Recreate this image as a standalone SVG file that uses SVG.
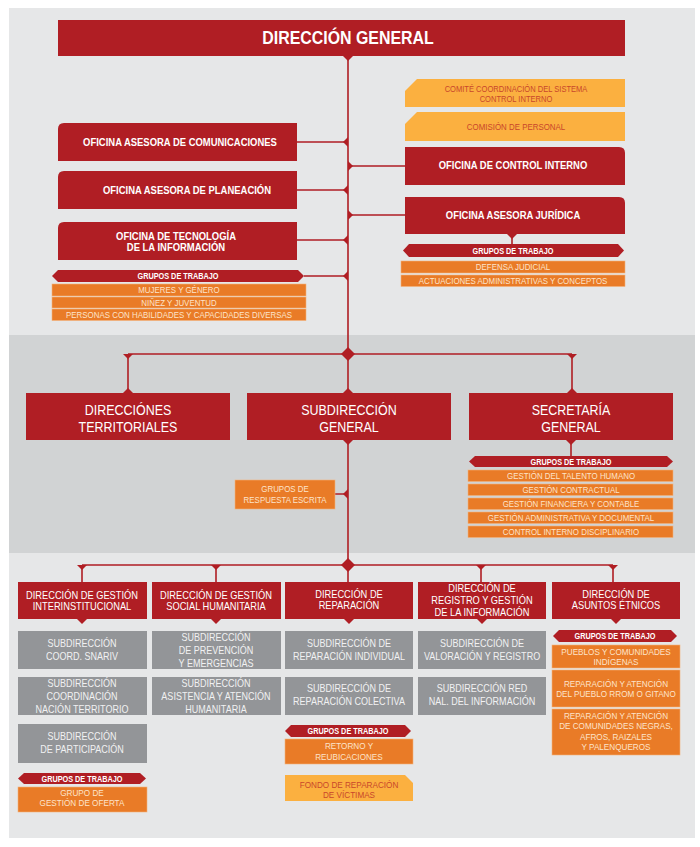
<svg xmlns="http://www.w3.org/2000/svg" width="700" height="847" viewBox="0 0 700 847">
<style>
text{font-family:"Liberation Sans",Arial,sans-serif;text-anchor:middle;transform-box:fill-box;transform-origin:center;transform:scaleX(0.86)}
text.title{transform:scaleX(0.91)}
.red{fill:#b01e24}
.org{fill:#e97b27;stroke:#f3b27a;stroke-width:0.6}
.yel{fill:#fbb040}
.gry{fill:#939598}
.w{fill:#ffffff}
.b{font-weight:bold}
.ot{fill:#fde4cb}
.yt{fill:#c9472b}
.gt{fill:#f1f1f2}
.ln{stroke:#b01e24;stroke-width:1.6;fill:none}
.mk{fill:#b01e24}
</style>
<rect x="0" y="0" width="700" height="847" fill="#ffffff"/>
<rect x="9" y="8" width="686" height="830" fill="#e6e7e8"/>
<rect x="9" y="335" width="686" height="218" fill="#d1d3d4"/>

<g id="connectors">
<path class="ln" d="M348,56V354 M297,142H348 M297,190H348 M297,240H348 M304,276H348 M348,166H405 M348,215H405 M512,234V244"/>
<path class="ln" d="M128,354H572 M128,354V393 M572,354V393 M348,354V393 M348,440V565 M335,494H348 M571,440V456"/>
<path class="ln" d="M82,565H613 M82,565V582 M216,565V582 M348,565V582 M481,565V582 M613,565V582"/>
<polygon class="mk" points="343,56 353,56 348,61"/>
<polygon class="mk" points="348,137 348,147 343,142"/>
<polygon class="mk" points="348,185 348,195 343,190"/>
<polygon class="mk" points="348,235 348,245 343,240"/>
<polygon class="mk" points="348,271 348,281 343,276"/>
<polygon class="mk" points="348,161 348,171 353,166"/>
<polygon class="mk" points="348,210 348,220 353,215"/>
<polygon class="mk" points="507,234 517,234 512,239"/>
<polygon class="mk" points="348,347 355,354 348,361 341,354"/>
<polygon class="mk" points="123,354 133,354 128,359"/>
<polygon class="mk" points="567,354 577,354 572,359"/>
<polygon class="mk" points="123,393 133,393 128,388"/>
<polygon class="mk" points="343,393 353,393 348,388"/>
<polygon class="mk" points="567,393 577,393 572,388"/>
<polygon class="mk" points="343,440 353,440 348,445"/>
<polygon class="mk" points="566,440 576,440 571,445"/>
<polygon class="mk" points="348,489 348,499 343,494"/>
<polygon class="mk" points="348,558 355,565 348,572 341,565"/>
<polygon class="mk" points="77,565 87,565 82,570"/>
<polygon class="mk" points="211,565 221,565 216,570"/>
<polygon class="mk" points="476,565 486,565 481,570"/>
<polygon class="mk" points="608,565 618,565 613,570"/>
<polygon class="mk" points="77,619 87,619 82,624"/>
<polygon class="mk" points="211,619 221,619 216,624"/>
<polygon class="mk" points="344,619 354,619 349,624"/>
<polygon class="mk" points="477,619 487,619 482,624"/>
<polygon class="mk" points="611,619 621,619 616,624"/>
</g>

<g id="direccion-general">
<rect class="red" x="58" y="20" width="567" height="36"/>
<text class="w b title" x="348" y="44" font-size="17.5">DIRECCIÓN GENERAL</text>
</g>

<g id="comite">
<path class="yel" d="M405,91L417,79H625V107H405Z"/>
<text class="yt" x="516" y="92.5" font-size="8.8">COMITÉ COORDINACIÓN DEL SISTEMA</text>
<text class="yt" x="516" y="102" font-size="8.8">CONTROL INTERNO</text>
</g>
<g id="comision">
<path class="yel" d="M405,124L417,112H625V141H405Z"/>
<text class="yt" x="516" y="130" font-size="9.2">COMISIÓN DE PERSONAL</text>
</g>
<g id="control-interno">
<path class="red" d="M405,147H619Q625,147 625,153V185H405Z"/>
<text class="w b" x="513" y="169.5" font-size="11">OFICINA DE CONTROL INTERNO</text>
</g>
<g id="juridica">
<path class="red" d="M405,197H619Q625,197 625,203V234H405Z"/>
<text class="w b" x="513" y="219" font-size="11">OFICINA ASESORA JURÍDICA</text>
</g>
<g id="grupos-juridica">
<polygon class="red" points="409,244 618,244 624,250.5 618,257 409,257 403,250.5"/>
<text class="w b" x="513" y="254" font-size="8.5">GRUPOS DE TRABAJO</text>
<rect class="org" x="401" y="261" width="224" height="12"/>
<text class="ot" x="513" y="270.5" font-size="9.2">DEFENSA JUDICIAL</text>
<rect class="org" x="401" y="275" width="224" height="11.5"/>
<text class="ot" x="513" y="284.2" font-size="9.2">ACTUACIONES ADMINISTRATIVAS Y CONCEPTOS</text>
</g>

<g id="comunicaciones">
<path class="red" d="M58,129Q58,123 64,123H297V161H58Z"/>
<text class="w b" x="180" y="146" font-size="11">OFICINA ASESORA DE COMUNICACIONES</text>
</g>
<g id="planeacion">
<path class="red" d="M58,177Q58,171 64,171H297V209H58Z"/>
<text class="w b" x="187" y="194" font-size="11">OFICINA ASESORA DE PLANEACIÓN</text>
</g>
<g id="tecnologia">
<path class="red" d="M58,228Q58,222 64,222H297V260H58Z"/>
<text class="w b" x="176" y="240" font-size="11">OFICINA DE TECNOLOGÍA</text>
<text class="w b" x="176" y="251.5" font-size="11">DE LA INFORMACIÓN</text>
</g>
<g id="grupos-tecnologia">
<polygon class="red" points="58,270 298,270 304,276 298,282 58,282 52,276"/>
<text class="w b" x="178" y="279.5" font-size="8.5">GRUPOS DE TRABAJO</text>
<rect class="org" x="52" y="284" width="254" height="12"/>
<text class="ot" x="179" y="293.3" font-size="9.2">MUJERES Y GÉNERO</text>
<rect class="org" x="52" y="297" width="254" height="11"/>
<text class="ot" x="179" y="305.8" font-size="9.2">NIÑEZ Y JUVENTUD</text>
<rect class="org" x="52" y="309" width="254" height="11.5"/>
<text class="ot" x="179" y="318" font-size="9.2">PERSONAS CON HABILIDADES Y CAPACIDADES DIVERSAS</text>
</g>

<g id="direcciones-territoriales">
<rect class="red" x="26" y="393" width="204" height="47"/>
<text class="w" x="128" y="415" font-size="14.5">DIRECCIÓNES</text>
<text class="w" x="128" y="432" font-size="14.5">TERRITORIALES</text>
</g>
<g id="subdireccion-general">
<rect class="red" x="247" y="393" width="204" height="47"/>
<text class="w" x="349" y="415" font-size="14.5">SUBDIRECCIÓN</text>
<text class="w" x="349" y="432" font-size="14.5">GENERAL</text>
</g>
<g id="secretaria-general">
<rect class="red" x="469" y="393" width="204" height="47"/>
<text class="w" x="571" y="415" font-size="14.5">SECRETARÍA</text>
<text class="w" x="571" y="432" font-size="14.5">GENERAL</text>
</g>
<g id="grupos-respuesta">
<rect class="org" x="235" y="480" width="100" height="29"/>
<text class="ot" x="285" y="492.5" font-size="9.2">GRUPOS DE</text>
<text class="ot" x="285" y="503" font-size="9.2">RESPUESTA ESCRITA</text>
</g>
<g id="grupos-secretaria">
<polygon class="red" points="475,456 667,456 673,461.5 667,467 475,467 469,461.5"/>
<text class="w b" x="571" y="465" font-size="8.5">GRUPOS DE TRABAJO</text>
<rect class="org" x="468" y="470" width="205" height="11.5"/>
<text class="ot" x="571" y="479" font-size="9.2">GESTIÓN DEL TALENTO HUMANO</text>
<rect class="org" x="468" y="484" width="205" height="11.5"/>
<text class="ot" x="571" y="493" font-size="9.2">GESTIÓN CONTRACTUAL</text>
<rect class="org" x="468" y="498" width="205" height="11.5"/>
<text class="ot" x="571" y="507" font-size="9.2">GESTIÓN FINANCIERA Y CONTABLE</text>
<rect class="org" x="468" y="512" width="205" height="11.5"/>
<text class="ot" x="571" y="521" font-size="9.2">GESTIÓN ADMINISTRATIVA Y DOCUMENTAL</text>
<rect class="org" x="468" y="526" width="205" height="11.5"/>
<text class="ot" x="571" y="535" font-size="9.2">CONTROL INTERNO DISCIPLINARIO</text>
</g>

<g id="dir-interinstitucional">
<rect class="red" x="18" y="582" width="129" height="37"/>
<text class="w" x="82" y="599" font-size="10.8">DIRECCIÓN DE GESTIÓN</text>
<text class="w" x="82" y="610.5" font-size="10.8">INTERINSTITUCIONAL</text>
</g>
<g id="sub-snariv">
<rect class="gry" x="18" y="631" width="129" height="38"/>
<text class="gt" x="82" y="647" font-size="10.5">SUBDIRECCIÓN</text>
<text class="gt" x="82" y="660" font-size="10.5">COORD. SNARIV</text>
</g>
<g id="sub-nacion-territorio">
<rect class="gry" x="18" y="677" width="129" height="38"/>
<text class="gt" x="82" y="687" font-size="10.5">SUBDIRECCIÓN</text>
<text class="gt" x="82" y="700" font-size="10.5">COORDINACIÓN</text>
<text class="gt" x="82" y="713" font-size="10.5">NACIÓN TERRITORIO</text>
</g>
<g id="sub-participacion">
<rect class="gry" x="18" y="724" width="129" height="39"/>
<text class="gt" x="82" y="740" font-size="10.5">SUBDIRECCIÓN</text>
<text class="gt" x="82" y="753" font-size="10.5">DE PARTICIPACIÓN</text>
</g>
<g id="grupos-interinstitucional">
<polygon class="red" points="24,773 140,773 146,778.5 140,784 24,784 18,778.5"/>
<text class="w b" x="82" y="782" font-size="8.5">GRUPOS DE TRABAJO</text>
<rect class="org" x="18" y="787" width="129" height="25"/>
<text class="ot" x="82" y="796" font-size="9.5">GRUPO DE</text>
<text class="ot" x="82" y="806.5" font-size="9.5">GESTIÓN DE OFERTA</text>
</g>

<g id="dir-social-humanitaria">
<rect class="red" x="152" y="582" width="129" height="37"/>
<text class="w" x="216" y="599" font-size="10.8">DIRECCIÓN DE GESTIÓN</text>
<text class="w" x="216" y="610.5" font-size="10.8">SOCIAL HUMANITARIA</text>
</g>
<g id="sub-prevencion">
<rect class="gry" x="152" y="631" width="129" height="38"/>
<text class="gt" x="216" y="641" font-size="10.5">SUBDIRECCIÓN</text>
<text class="gt" x="216" y="654" font-size="10.5">DE PREVENCIÓN</text>
<text class="gt" x="216" y="667" font-size="10.5">Y EMERGENCIAS</text>
</g>
<g id="sub-asistencia">
<rect class="gry" x="152" y="677" width="129" height="38"/>
<text class="gt" x="216" y="687" font-size="10.5">SUBDIRECCIÓN</text>
<text class="gt" x="216" y="700" font-size="10.5">ASISTENCIA Y ATENCIÓN</text>
<text class="gt" x="216" y="713" font-size="10.5">HUMANITARIA</text>
</g>

<g id="dir-reparacion">
<rect class="red" x="285" y="582" width="128" height="37"/>
<text class="w" x="349" y="598" font-size="10.8">DIRECCIÓN DE</text>
<text class="w" x="349" y="609.5" font-size="10.8">REPARACIÓN</text>
</g>
<g id="sub-rep-individual">
<rect class="gry" x="285" y="631" width="128" height="38"/>
<text class="gt" x="349" y="647" font-size="10.5">SUBDIRECCIÓN DE</text>
<text class="gt" x="349" y="660" font-size="10.5">REPARACIÓN INDIVIDUAL</text>
</g>
<g id="sub-rep-colectiva">
<rect class="gry" x="285" y="677" width="128" height="38"/>
<text class="gt" x="349" y="692" font-size="10.5">SUBDIRECCIÓN DE</text>
<text class="gt" x="349" y="705" font-size="10.5">REPARACIÓN COLECTIVA</text>
</g>
<g id="grupos-reparacion">
<polygon class="red" points="291,725 405,725 411,731 405,737 291,737 285,731"/>
<text class="w b" x="348" y="734.5" font-size="8.5">GRUPOS DE TRABAJO</text>
<rect class="org" x="285" y="739" width="128" height="25"/>
<text class="ot" x="349" y="749.5" font-size="9.5">RETORNO Y</text>
<text class="ot" x="349" y="760.5" font-size="9.5">REUBICACIONES</text>
</g>
<g id="fondo-reparacion">
<path class="yel" d="M285,775H405L413,783V801H285Z"/>
<text class="yt" x="349" y="788" font-size="9.5">FONDO DE REPARACIÓN</text>
<text class="yt" x="349" y="798" font-size="9.5">DE VÍCTIMAS</text>
</g>

<g id="dir-registro">
<rect class="red" x="418" y="582" width="128" height="37"/>
<text class="w" x="482" y="592" font-size="10.8">DIRECCIÓN DE</text>
<text class="w" x="482" y="604" font-size="10.8">REGISTRO Y GESTIÓN</text>
<text class="w" x="482" y="616" font-size="10.8">DE LA INFORMACIÓN</text>
</g>
<g id="sub-valoracion">
<rect class="gry" x="418" y="631" width="128" height="38"/>
<text class="gt" x="482" y="647" font-size="10.5">SUBDIRECCIÓN DE</text>
<text class="gt" x="482" y="660" font-size="10.5">VALORACIÓN Y REGISTRO</text>
</g>
<g id="sub-red-nacional">
<rect class="gry" x="418" y="677" width="128" height="38"/>
<text class="gt" x="482" y="692" font-size="10.5">SUBDIRECCIÓN RED</text>
<text class="gt" x="482" y="705" font-size="10.5">NAL. DEL INFORMACIÓN</text>
</g>

<g id="dir-etnicos">
<rect class="red" x="552" y="582" width="128" height="37"/>
<text class="w" x="616" y="598" font-size="10.8">DIRECCIÓN DE</text>
<text class="w" x="616" y="609.5" font-size="10.8">ASUNTOS ÉTNICOS</text>
</g>
<g id="grupos-etnicos">
<polygon class="red" points="559,630 671,630 677,636 671,642 559,642 553,636"/>
<text class="w b" x="615" y="639.5" font-size="8.5">GRUPOS DE TRABAJO</text>
<rect class="org" x="552" y="645" width="128" height="23"/>
<text class="ot" x="616" y="655.5" font-size="9.5">PUEBLOS Y COMUNIDADES</text>
<text class="ot" x="616" y="665.5" font-size="9.5">INDÍGENAS</text>
<rect class="org" x="552" y="670" width="128" height="37"/>
<text class="ot" x="616" y="687" font-size="9.5">REPARACIÓN Y ATENCIÓN</text>
<text class="ot" x="616" y="697" font-size="9.5">DEL PUEBLO RROM O GITANO</text>
<rect class="org" x="552" y="709" width="128" height="46"/>
<text class="ot" x="616" y="719" font-size="9.5">REPARACIÓN Y ATENCIÓN</text>
<text class="ot" x="616" y="729.5" font-size="9.5">DE COMUNIDADES NEGRAS,</text>
<text class="ot" x="616" y="740.5" font-size="9.5">AFROS, RAIZALES</text>
<text class="ot" x="616" y="750.5" font-size="9.5">Y PALENQUEROS</text>
</g>
</svg>
